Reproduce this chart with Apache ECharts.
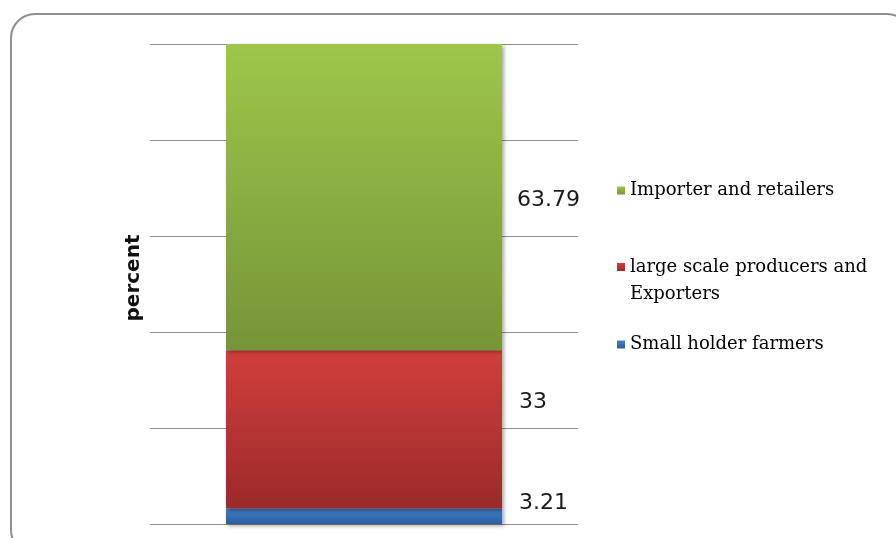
<!DOCTYPE html>
<html>
<head>
<meta charset="utf-8">
<script src="https://cdn.jsdelivr.net/npm/echarts@6/dist/echarts.min.js"></script>
<style>
  html, body { margin: 0; padding: 0; background: #fff; }
  #chart { width: 896px; height: 538px; }
</style>
</head>
<body>
<div id="chart"></div>
<script>
// Share of value along the chain, in percent
const categories = ['chain'];
const seriesNames = ['Small holder farmers', 'large scale producers and Exporters', 'Importer and retailers'];
const smallHolder = [3.21];
const largeScale = [33];
const importers = [63.79];
const axisTicks = [0, 20, 40, 60, 80, 100];

const chart = echarts.init(document.getElementById('chart'));

function grad(top, bottom) {
  return new echarts.graphic.LinearGradient(0, 0, 0, 1, [
    { offset: 0, color: top },
    { offset: 1, color: bottom }
  ]);
}

const shadow = {
  shadowColor: 'rgba(0,0,0,0.35)',
  shadowBlur: 4,
  shadowOffsetX: 2,
  shadowOffsetY: 2
};

const labelFont = {
  fontFamily: 'DejaVu Sans',
  fontSize: 22,
  color: '#1a1a1a'
};

const legendText = {
  fontFamily: 'DejaVu Serif',
  fontSize: 18,
  color: '#000',
  lineHeight: 27
};

function legendItem(name, top, formatter) {
  const item = {
    data: [name],
    orient: 'vertical',
    left: 617,
    top: top,
    padding: 0,
    itemWidth: 8,
    itemHeight: 8,
    icon: 'rect',
    selectedMode: false,
    textStyle: legendText
  };
  if (formatter) item.formatter = formatter;
  return item;
}

chart.setOption({
  animation: false,
  backgroundColor: '#fff',
  graphic: [{
    type: 'rect',
    shape: { x: 11, y: 14, width: 900, height: 540, r: 24 },
    style: { fill: 'none', stroke: '#8f8f8f', lineWidth: 2 },
    silent: true,
    z: -1
  }],
  grid: { left: 150, right: 318, top: 44, bottom: 14 },
  xAxis: {
    type: 'category',
    data: categories,
    axisLine: { show: false },
    axisTick: { show: false },
    axisLabel: { show: false }
  },
  yAxis: {
    type: 'value',
    min: axisTicks[0],
    max: axisTicks[axisTicks.length - 1],
    interval: axisTicks[1] - axisTicks[0],
    axisLine: { show: false },
    axisTick: { show: false },
    axisLabel: { show: false },
    splitLine: { lineStyle: { color: '#8a8a8a', width: 1 } },
    name: 'percent',
    nameLocation: 'middle',
    nameRotate: 90,
    nameGap: 6,
    nameTextStyle: {
      fontFamily: 'DejaVu Sans',
      fontWeight: 'bold',
      fontSize: 20,
      color: '#111',
      padding: [0, 0, 0, 12]
    }
  },
  legend: [
    legendItem(seriesNames[2], 177),
    // blank first line keeps the marker level with the first text line
    legendItem(seriesNames[1], 226.5, () => '\u00a0\nlarge scale producers and\nExporters'),
    legendItem(seriesNames[0], 331)
  ],
  series: [
    {
      name: seriesNames[0],
      type: 'bar',
      stack: 'total',
      barWidth: 276,
      data: smallHolder,
      itemStyle: Object.assign({ color: grad('#3f7fcc', '#2b5e9f') }, shadow),
      label: Object.assign({ show: true, position: 'right', distance: 17, offset: [0, -13] }, labelFont)
    },
    {
      name: seriesNames[1],
      type: 'bar',
      stack: 'total',
      barWidth: 276,
      data: largeScale,
      itemStyle: Object.assign({ color: grad('#d03f3d', '#9b2a29') }, shadow),
      label: Object.assign({ show: true, position: 'right', distance: 17, offset: [0, -27] }, labelFont)
    },
    {
      name: seriesNames[2],
      type: 'bar',
      stack: 'total',
      barWidth: 276,
      data: importers,
      itemStyle: Object.assign({ color: grad('#9ec64a', '#769538') }, shadow),
      label: Object.assign({ show: true, position: 'right', distance: 15, offset: [0, 3] }, labelFont)
    }
  ]
});
</script>
</body>
</html>
